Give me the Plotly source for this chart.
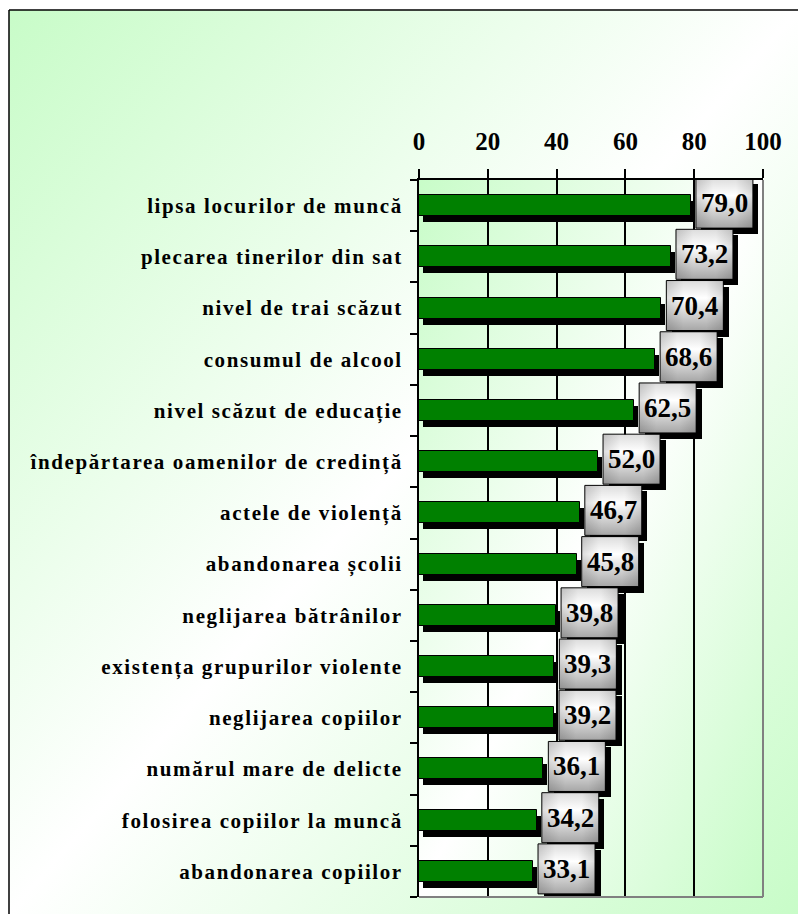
import base64

import plotly.graph_objects as go

categories = [
    "lipsa locurilor de muncă",
    "plecarea tinerilor din sat",
    "nivel de trai scăzut",
    "consumul de alcool",
    "nivel scăzut de educație",
    "îndepărtarea oamenilor de credință",
    "actele de violență",
    "abandonarea școlii",
    "neglijarea bătrânilor",
    "existența grupurilor violente",
    "neglijarea copiilor",
    "numărul mare de delicte",
    "folosirea copiilor la muncă",
    "abandonarea copiilor",
]
values = [79.0, 73.2, 70.4, 68.6, 62.5, 52.0, 46.7, 45.8, 39.8, 39.3, 39.2, 36.1, 34.2, 33.1]
x_ticks = [0, 20, 40, 60, 80, 100]

FONT = "Liberation Serif, Times New Roman, serif"
W, H = 798, 914
M_L, M_R, M_T, M_B = 419, 35, 180, 17
PW, PH = W - M_L - M_R, H - M_T - M_B


def svg_uri(svg):
    return "data:image/svg+xml;base64," + base64.b64encode(svg.encode("utf-8")).decode()


def px_x(px):
    # figure pixel -> paper x (paper spans the plot area)
    return (px - M_L) / PW


def px_y(py):
    return (H - M_B - py) / PH


diag_svg = (
    '<svg xmlns="http://www.w3.org/2000/svg" width="100" height="100" viewBox="0 0 100 100" '
    'preserveAspectRatio="none"><defs><linearGradient id="g" x1="0" y1="0" x2="1" y2="1">'
    '<stop offset="0" stop-color="#c8fcc8"/><stop offset="0.5" stop-color="#ffffff"/>'
    '<stop offset="1" stop-color="#c8fcc8"/></linearGradient></defs>'
    '<rect width="100" height="100" fill="url(#g)"/></svg>'
)
box_svg = (
    '<svg xmlns="http://www.w3.org/2000/svg" width="57" height="50" viewBox="0 0 57 50" '
    'preserveAspectRatio="none"><defs>'
    '<linearGradient id="v" x1="0" y1="0" x2="0" y2="1">'
    '<stop offset="0" stop-color="#dcdcdc"/><stop offset="0.35" stop-color="#ffffff"/>'
    '<stop offset="1" stop-color="#a6a6a6"/></linearGradient>'
    '<linearGradient id="h" x1="0" y1="0" x2="1" y2="0">'
    '<stop offset="0" stop-color="#000" stop-opacity="0.14"/>'
    '<stop offset="0.3" stop-color="#000" stop-opacity="0"/>'
    '<stop offset="0.7" stop-color="#000" stop-opacity="0"/>'
    '<stop offset="1" stop-color="#000" stop-opacity="0.14"/></linearGradient></defs>'
    '<rect width="57" height="50" fill="url(#v)"/><rect width="57" height="50" fill="url(#h)"/></svg>'
)

n = len(categories)
pos = list(range(n))
px_per_unit = PW / 100
px_per_row = PH / n

# offsets in data units (shadows, value boxes)
sh_dx = 4 / px_per_unit
sh_dy = 6 / px_per_row
box_gap = 1.5
box_w = 57 / px_per_unit
box_h = 50 / px_per_row
box_dy = -2.5 / px_per_row

fig = go.Figure()

# bar shadow
fig.add_bar(
    y=[p + sh_dy for p in pos], x=values, base=sh_dx, orientation="h", width=0.41,
    marker=dict(color="black", line=dict(width=0)), hoverinfo="skip",
)
# bars
fig.add_bar(
    y=pos, x=values, orientation="h", width=0.41,
    marker=dict(color="#008000", line=dict(color="black", width=1)),
)
# value box shadow
fig.add_bar(
    y=[p + box_dy + sh_dy for p in pos], x=[box_w] * n,
    base=[v + box_gap + 1.6 for v in values], orientation="h", width=box_h,
    marker=dict(color="black", line=dict(width=0)), hoverinfo="skip",
)

images = [
    dict(source=svg_uri(diag_svg), xref="paper", yref="paper", x=px_x(9), y=px_y(10),
         sizex=(W - 9) / PW, sizey=(H - 10) / PH, sizing="stretch",
         xanchor="left", yanchor="top", layer="below"),
    dict(source=svg_uri(diag_svg), xref="x domain", yref="y domain", x=0, y=1,
         sizex=1, sizey=1, sizing="stretch", xanchor="left", yanchor="top", layer="below"),
]
shapes = [
    dict(type="line", xref="paper", yref="paper", x0=px_x(9), x1=px_x(9), y0=px_y(H), y1=px_y(10),
         line=dict(color="black", width=1.5), layer="above"),
    dict(type="line", xref="paper", yref="paper", x0=px_x(9), x1=px_x(W), y0=px_y(10), y1=px_y(10),
         line=dict(color="black", width=1.5), layer="above"),
    dict(type="line", xref="x domain", yref="y domain", x0=1, x1=1, y0=0, y1=1,
         line=dict(color="#808080", width=2), layer="above"),
    dict(type="line", xref="x domain", yref="y domain", x0=0, x1=1, y0=0, y1=0,
         line=dict(color="#808080", width=2), layer="above"),
]
annotations = []
for p, v in zip(pos, values):
    x0 = v + box_gap
    yc = p + box_dy
    images.append(dict(source=svg_uri(box_svg), xref="x", yref="y", x=x0, y=yc,
                       sizex=box_w, sizey=box_h, sizing="stretch",
                       xanchor="left", yanchor="middle", layer="above"))
    shapes.append(dict(type="rect", xref="x", yref="y", x0=x0, x1=x0 + box_w,
                       y0=yc - box_h / 2, y1=yc + box_h / 2,
                       line=dict(color="black", width=1), layer="above"))
    annotations.append(dict(x=x0 + box_w / 2, y=yc, xref="x", yref="y",
                            text=f"{v:.1f}".replace(".", ","), showarrow=False,
                            font=dict(family=FONT, size=27, color="black", weight="bold")))

fig.update_layout(
    width=W, height=H,
    margin=dict(l=M_L, r=M_R, t=M_T, b=M_B, pad=0),
    paper_bgcolor="white", plot_bgcolor="rgba(0,0,0,0)",
    barmode="overlay", bargap=0, showlegend=False,
    images=images, shapes=shapes, annotations=annotations,
    font=dict(family=FONT, color="black"),
)
fig.update_xaxes(
    side="top", range=[0, 100], tickvals=x_ticks, ticks="outside", ticklen=9,
    tickwidth=1.5, tickcolor="black", showgrid=True, gridcolor="black", gridwidth=1.5,
    showline=True, linecolor="black", linewidth=1.5, zeroline=False,
    ticklabelstandoff=9, tickfont=dict(family=FONT, size=25, weight="bold"),
)
fig.update_yaxes(
    range=[n - 0.5, -0.5], tickvals=pos, ticktext=categories, ticks="",
    minor=dict(tickvals=[p - 0.5 for p in range(n + 1)], ticks="outside", ticklen=7,
               tickwidth=1.5, tickcolor="black", showgrid=False),
    showgrid=False, zeroline=False, showline=True, linecolor="black", linewidth=2,
    ticklabelstandoff=10, tickfont=dict(family=FONT, size=21, weight="bold"),
)

post = (
    "document.body.style.margin='0';"
    "document.querySelectorAll('.ytick text').forEach(function(t){t.style.letterSpacing='1.6px';});"
)
fig.write_html("out.html", post_script=post, config={"displayModeBar": False})
